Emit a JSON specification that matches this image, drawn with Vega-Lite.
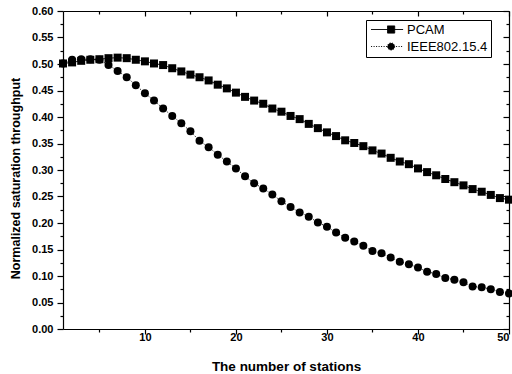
{
  "$schema": "https://vega.github.io/schema/vega-lite/v6.json",
  "width": 446,
  "height": 318,
  "autosize": {"type": "none"},
  "padding": {"left": 63, "top": 11, "right": 3, "bottom": 45},
  "background": "white",
  "config": {
    "view": {"stroke": null},
    "font": "Liberation Sans",
    "axis": {
      "grid": false,
      "domainColor": "black",
      "tickColor": "black",
      "labelColor": "black",
      "titleColor": "black",
      "labelFont": "Liberation Sans",
      "titleFont": "Liberation Sans",
      "labelFontWeight": "bold",
      "labelFontSize": 11,
      "titleFontWeight": "bold",
      "titleFontSize": 13,
      "domainWidth": 1.2,
      "tickWidth": 1.2
    }
  },
  "data": {
    "values": [
      {"n": 1, "series": "PCAM", "v": 0.501}, {"n": 2, "series": "PCAM", "v": 0.503}, {"n": 3, "series": "PCAM", "v": 0.506}, {"n": 4, "series": "PCAM", "v": 0.508}, {"n": 5, "series": "PCAM", "v": 0.509},
      {"n": 6, "series": "PCAM", "v": 0.511}, {"n": 7, "series": "PCAM", "v": 0.512}, {"n": 8, "series": "PCAM", "v": 0.511}, {"n": 9, "series": "PCAM", "v": 0.508}, {"n": 10, "series": "PCAM", "v": 0.505},
      {"n": 11, "series": "PCAM", "v": 0.501}, {"n": 12, "series": "PCAM", "v": 0.498}, {"n": 13, "series": "PCAM", "v": 0.492}, {"n": 14, "series": "PCAM", "v": 0.486}, {"n": 15, "series": "PCAM", "v": 0.480},
      {"n": 16, "series": "PCAM", "v": 0.475}, {"n": 17, "series": "PCAM", "v": 0.469}, {"n": 18, "series": "PCAM", "v": 0.461}, {"n": 19, "series": "PCAM", "v": 0.454}, {"n": 20, "series": "PCAM", "v": 0.446},
      {"n": 21, "series": "PCAM", "v": 0.438}, {"n": 22, "series": "PCAM", "v": 0.431}, {"n": 23, "series": "PCAM", "v": 0.425}, {"n": 24, "series": "PCAM", "v": 0.416}, {"n": 25, "series": "PCAM", "v": 0.410},
      {"n": 26, "series": "PCAM", "v": 0.402}, {"n": 27, "series": "PCAM", "v": 0.396}, {"n": 28, "series": "PCAM", "v": 0.387}, {"n": 29, "series": "PCAM", "v": 0.379}, {"n": 30, "series": "PCAM", "v": 0.371},
      {"n": 31, "series": "PCAM", "v": 0.364}, {"n": 32, "series": "PCAM", "v": 0.356}, {"n": 33, "series": "PCAM", "v": 0.351}, {"n": 34, "series": "PCAM", "v": 0.345}, {"n": 35, "series": "PCAM", "v": 0.337},
      {"n": 36, "series": "PCAM", "v": 0.331}, {"n": 37, "series": "PCAM", "v": 0.323}, {"n": 38, "series": "PCAM", "v": 0.316}, {"n": 39, "series": "PCAM", "v": 0.311}, {"n": 40, "series": "PCAM", "v": 0.303},
      {"n": 41, "series": "PCAM", "v": 0.296}, {"n": 42, "series": "PCAM", "v": 0.290}, {"n": 43, "series": "PCAM", "v": 0.283}, {"n": 44, "series": "PCAM", "v": 0.277}, {"n": 45, "series": "PCAM", "v": 0.271},
      {"n": 46, "series": "PCAM", "v": 0.264}, {"n": 47, "series": "PCAM", "v": 0.259}, {"n": 48, "series": "PCAM", "v": 0.253}, {"n": 49, "series": "PCAM", "v": 0.247}, {"n": 50, "series": "PCAM", "v": 0.244},
      {"n": 1, "series": "IEEE802.15.4", "v": 0.501}, {"n": 2, "series": "IEEE802.15.4", "v": 0.508}, {"n": 3, "series": "IEEE802.15.4", "v": 0.509}, {"n": 4, "series": "IEEE802.15.4", "v": 0.509}, {"n": 5, "series": "IEEE802.15.4", "v": 0.508},
      {"n": 6, "series": "IEEE802.15.4", "v": 0.498}, {"n": 7, "series": "IEEE802.15.4", "v": 0.487}, {"n": 8, "series": "IEEE802.15.4", "v": 0.475}, {"n": 9, "series": "IEEE802.15.4", "v": 0.460}, {"n": 10, "series": "IEEE802.15.4", "v": 0.445},
      {"n": 11, "series": "IEEE802.15.4", "v": 0.431}, {"n": 12, "series": "IEEE802.15.4", "v": 0.416}, {"n": 13, "series": "IEEE802.15.4", "v": 0.402}, {"n": 14, "series": "IEEE802.15.4", "v": 0.388}, {"n": 15, "series": "IEEE802.15.4", "v": 0.373},
      {"n": 16, "series": "IEEE802.15.4", "v": 0.355}, {"n": 17, "series": "IEEE802.15.4", "v": 0.343}, {"n": 18, "series": "IEEE802.15.4", "v": 0.329}, {"n": 19, "series": "IEEE802.15.4", "v": 0.316}, {"n": 20, "series": "IEEE802.15.4", "v": 0.303},
      {"n": 21, "series": "IEEE802.15.4", "v": 0.288}, {"n": 22, "series": "IEEE802.15.4", "v": 0.275}, {"n": 23, "series": "IEEE802.15.4", "v": 0.265}, {"n": 24, "series": "IEEE802.15.4", "v": 0.254}, {"n": 25, "series": "IEEE802.15.4", "v": 0.241},
      {"n": 26, "series": "IEEE802.15.4", "v": 0.230}, {"n": 27, "series": "IEEE802.15.4", "v": 0.220}, {"n": 28, "series": "IEEE802.15.4", "v": 0.212}, {"n": 29, "series": "IEEE802.15.4", "v": 0.201}, {"n": 30, "series": "IEEE802.15.4", "v": 0.193},
      {"n": 31, "series": "IEEE802.15.4", "v": 0.182}, {"n": 32, "series": "IEEE802.15.4", "v": 0.172}, {"n": 33, "series": "IEEE802.15.4", "v": 0.165}, {"n": 34, "series": "IEEE802.15.4", "v": 0.157}, {"n": 35, "series": "IEEE802.15.4", "v": 0.147},
      {"n": 36, "series": "IEEE802.15.4", "v": 0.143}, {"n": 37, "series": "IEEE802.15.4", "v": 0.135}, {"n": 38, "series": "IEEE802.15.4", "v": 0.127}, {"n": 39, "series": "IEEE802.15.4", "v": 0.122}, {"n": 40, "series": "IEEE802.15.4", "v": 0.116},
      {"n": 41, "series": "IEEE802.15.4", "v": 0.108}, {"n": 42, "series": "IEEE802.15.4", "v": 0.104}, {"n": 43, "series": "IEEE802.15.4", "v": 0.096}, {"n": 44, "series": "IEEE802.15.4", "v": 0.093}, {"n": 45, "series": "IEEE802.15.4", "v": 0.088},
      {"n": 46, "series": "IEEE802.15.4", "v": 0.080}, {"n": 47, "series": "IEEE802.15.4", "v": 0.079}, {"n": 48, "series": "IEEE802.15.4", "v": 0.075}, {"n": 49, "series": "IEEE802.15.4", "v": 0.070}, {"n": 50, "series": "IEEE802.15.4", "v": 0.067}
    ]
  },
  "layer": [
    {
      "mark": {"type": "point", "opacity": 0},
      "encoding": {
        "x": {"field": "n", "type": "quantitative", "scale": {"domain": [1, 50], "nice": false, "zero": false},
          "axis": {"orient": "bottom", "title": null, "labels": false, "domain": false, "values": [5, 15, 25, 35, 45], "tickSize": 3}},
        "y": {"field": "v", "type": "quantitative", "scale": {"domain": [0, 0.6], "nice": false},
          "axis": {"orient": "left", "title": null, "labels": false, "domain": false, "values": [0.025, 0.075, 0.125, 0.175, 0.225, 0.275, 0.325, 0.375, 0.425, 0.475, 0.525, 0.575], "tickSize": 3}}
      }
    },
    {
      "mark": {"type": "point", "opacity": 0},
      "encoding": {
        "x": {"field": "n", "type": "quantitative",
          "axis": {"orient": "top", "title": null, "labels": false, "domain": false, "values": [5, 15, 25, 35, 45], "tickSize": -3}},
        "y": {"field": "v", "type": "quantitative",
          "axis": {"orient": "right", "title": null, "labels": false, "domain": false, "values": [0.025, 0.075, 0.125, 0.175, 0.225, 0.275, 0.325, 0.375, 0.425, 0.475, 0.525, 0.575], "tickSize": -3}}
      }
    },
    {
      "mark": {"type": "line", "color": "black", "strokeWidth": 1},
      "encoding": {
        "x": {"field": "n", "type": "quantitative",
          "axis": {"orient": "bottom", "title": "The number of stations", "values": [10, 20, 30, 40, 50], "tickSize": 5, "labelPadding": -3, "titlePadding": 17, "titleFontSize": 13.5}},
        "y": {"field": "v", "type": "quantitative",
          "axis": {"orient": "left", "title": "Normalized saturation throughput", "format": ".2f", "values": [0, 0.05, 0.1, 0.15, 0.2, 0.25, 0.3, 0.35, 0.4, 0.45, 0.5, 0.55, 0.6], "tickSize": 6, "labelPadding": 4, "titlePadding": 9, "titleY": 167, "titleFontSize": 12.5}},
        "strokeDash": {"field": "series", "type": "nominal", "scale": {"domain": ["PCAM", "IEEE802.15.4"], "range": [[1, 0], [1, 1.5]]},
          "legend": {
            "orient": "none", "legendX": 303, "legendY": 9, "title": null,
            "strokeColor": "black", "padding": 3, "symbolSize": 64,
            "labelFont": "Liberation Sans", "labelFontSize": 13, "labelFontWeight": "normal", "labelColor": "black",
            "labelOffset": 25, "rowPadding": 3,
            "symbolStrokeWidth": 1, "symbolStrokeColor": "black",
            "encode": {
              "symbols": {
                "update": {
                  "shape": [
                    {"test": "datum.value == 'PCAM'", "value": "M-1.1,0H6.9M3,-0.9H4.8V0.9H3Z"},
                    {"value": "M-1.1,0H6.9M4.8,0A0.9,0.9,0,1,1,3,0A0.9,0.9,0,1,1,4.8,0Z"}
                  ],
                  "fill": {"value": "black"},
                  "stroke": {"value": "black"}
                }
              }
            }
          }
        }
      }
    },
    {
      "mark": {"type": "point", "filled": true, "color": "black", "opacity": 1, "size": 64},
      "encoding": {
        "x": {"field": "n", "type": "quantitative",
          "axis": {"orient": "top", "title": null, "labels": false, "values": [10, 20, 30, 40, 50], "tickSize": -5}},
        "y": {"field": "v", "type": "quantitative",
          "axis": {"orient": "right", "title": null, "labels": false, "values": [0, 0.05, 0.1, 0.15, 0.2, 0.25, 0.3, 0.35, 0.4, 0.45, 0.5, 0.55, 0.6], "tickSize": -6}},
        "shape": {"condition": {"test": "datum.series == 'PCAM'", "value": "square"}, "value": "circle"}
      }
    }
  ],
  "resolve": {"axis": {"x": "independent", "y": "independent"}}
}
